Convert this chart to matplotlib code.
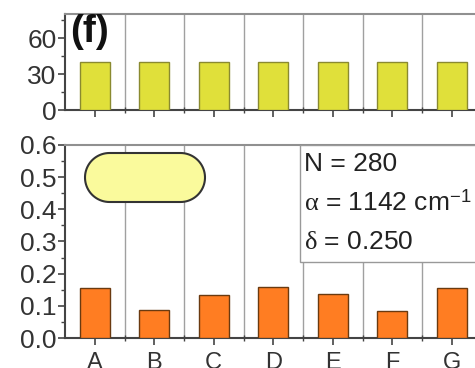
import numpy as np
import matplotlib.pyplot as plt
from matplotlib.patches import PathPatch
from matplotlib.path import Path
from matplotlib.transforms import IdentityTransform
from matplotlib.ticker import MultipleLocator

categories = ['A', 'B', 'C', 'D', 'E', 'F', 'G']
top_values = [40, 40, 40, 40, 40, 40, 40]
bottom_values = [0.155, 0.087, 0.134, 0.159, 0.137, 0.084, 0.155]
info_lines = ['N = 280', r'$\mathrm{\alpha}$ = 1142 cm$^{\mathsf{-1}}$', r'$\mathrm{\delta}$ = 0.250']

plt.rcParams['font.family'] = ['Liberation Sans', 'DejaVu Sans']
plt.rcParams['mathtext.fontset'] = 'custom'
plt.rcParams['mathtext.rm'] = 'Liberation Serif'
plt.rcParams['mathtext.it'] = 'Liberation Serif:italic'
plt.rcParams['mathtext.sf'] = 'Liberation Sans'

W, H = 475, 368
fig = plt.figure(figsize=(W / 100, H / 100), dpi=100)

# axes placed in pixel units; the right side runs past the figure edge (cropped look)
left = 65
right = 65 + 7 * 59.5
ax_top = fig.add_axes([left / W, 1 - 110 / H, (right - left) / W, 96 / H])
ax_bot = fig.add_axes([left / W, 1 - 338 / H, (right - left) / W, 193 / H])

x = range(len(categories))
tick_col = '#444444'
ax_top.bar(x, top_values, width=0.5, color='#e0e03a', edgecolor='#8a8a30', linewidth=1, zorder=3)
ax_bot.bar(x, bottom_values, width=0.5, color='#ff7d22', edgecolor='#6a3a10', linewidth=1, zorder=3)

for ax in (ax_top, ax_bot):
    ax.set_xlim(-0.5, len(categories) - 0.5)
    ax.set_xticks(list(x))
    ax.set_xticks([i + 0.5 for i in x], minor=True)
    ax.grid(True, which='minor', axis='x', color='#a0a0a0', linewidth=1, zorder=0)
    for s in ('left', 'bottom'):
        ax.spines[s].set_color(tick_col)
        ax.spines[s].set_linewidth(1.5)
    ax.spines['top'].set_color('#909090')
    ax.spines['top'].set_linewidth(1.5)
    ax.spines['right'].set_visible(False)
    ax.tick_params(axis='both', which='major', direction='out', length=5, width=1.2,
                   colors=tick_col, labelsize=19, labelcolor='#333333')
    ax.tick_params(axis='both', which='minor', direction='inout', length=4, width=1,
                   colors=tick_col)
    ax.tick_params(axis='y', which='minor', direction='out', length=3)
    ax.tick_params(axis='y', pad=1)

ax_top.set_ylim(0, 80)
ax_top.yaxis.set_major_locator(MultipleLocator(30))
ax_top.yaxis.set_minor_locator(MultipleLocator(15))
ax_top.tick_params(axis='x', which='major', labelbottom=False)
ax_top.text(0.012, 1.0, '(f)', transform=ax_top.transAxes, fontsize=28,
            fontweight='bold', va='top', ha='left', color='#111111')

ax_bot.set_ylim(0, 0.6)
ax_bot.yaxis.set_major_locator(MultipleLocator(0.1))
ax_bot.yaxis.set_minor_locator(MultipleLocator(0.05))
ax_bot.yaxis.set_major_formatter(plt.FormatStrFormatter('%.1f'))
ax_bot.set_xticklabels(categories)
ax_bot.tick_params(axis='x', pad=5, labelsize=17)

# stadium-shaped pill in pixel coordinates (origin bottom-left)
x0, x1 = 85, 205
yc, r = H - 177.5, 24.5
t = np.linspace(-np.pi / 2, np.pi / 2, 40)
right_arc = np.column_stack([x1 - r + r * np.cos(t), yc + r * np.sin(t)])
left_arc = np.column_stack([x0 + r - r * np.cos(t), yc - r * np.sin(t)])
verts = np.vstack([right_arc, left_arc, right_arc[:1]])
codes = [Path.MOVETO] + [Path.LINETO] * (len(verts) - 2) + [Path.CLOSEPOLY]
pill = PathPatch(Path(verts, codes), transform=IdentityTransform(),
                 facecolor='#fafa9c', edgecolor='#333333', linewidth=1.5, zorder=4)
ax_bot.add_patch(pill)

# parameter box
aw = right - left
ah = 193
box = plt.Rectangle((235 / aw, (338 - 262) / ah), 300 / aw, (262 - 145) / ah,
                    transform=ax_bot.transAxes, facecolor='white',
                    edgecolor='#999999', linewidth=1, zorder=4)
ax_bot.add_patch(box)
for i, line in enumerate(info_lines):
    ax_bot.text(239 / aw, (338 - 164 - 39 * i) / ah, line, transform=ax_bot.transAxes,
                fontsize=19, va='center', ha='left', color='#222222', zorder=5)

fig.savefig('out.png', dpi=100)
